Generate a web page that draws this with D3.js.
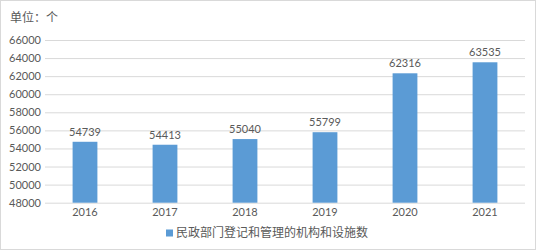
<!DOCTYPE html>
<html>
<head>
<meta charset="utf-8">
<script src="https://cdn.jsdelivr.net/npm/d3@7"></script>
<style>
  body { margin: 0; background: #fff; }
  svg { display: block; }
</style>
</head>
<body>
<script>
// chart data
var years  = ['2016', '2017', '2018', '2019', '2020', '2021'],
    counts = [54739, 54413, 55040, 55799, 62316, 63535],
    yTicks = [48000, 50000, 52000, 54000, 56000, 58000, 60000, 62000, 64000, 66000],
    unitLabel   = '单位：个',
    seriesLabel = '民政部门登记和管理的机构和设施数';

var width  = 536,
    height = 250,
    plot   = { left: 45, right: 525, top: 40, bottom: 202.7 },
    barColor  = '#5b9bd5',
    textColor = '#595959',
    gridColor = '#d9d9d9',
    numFont = 'Lato, "Liberation Sans", sans-serif',
    cjkFont = '"Noto Sans CJK SC", "Noto Sans", sans-serif';

var svg = d3.select('body').append('svg')
    .attr('width', width)
    .attr('height', height);

// outer frame
svg.append('rect')
    .attr('x', 0.5).attr('y', 0.5)
    .attr('width', width - 1).attr('height', height - 1)
    .style('fill', '#fff')
    .style('stroke', gridColor);

// scales
var xScale = d3.scaleBand().domain(years).range([plot.left, plot.right]).paddingInner(0.69).paddingOuter(0.345);
var yScale = d3.scaleLinear().domain([48000, 66000]).range([plot.bottom, plot.top]);

// y axis with gridlines
var yAxis = svg.append('g')
    .attr('transform', 'translate(' + plot.left + ',0)')
    .call(d3.axisLeft(yScale).tickValues(yTicks).tickSize(-(plot.right - plot.left)).tickPadding(4).tickFormat(d3.format('d')));
yAxis.select('.domain').remove();
yAxis.selectAll('line').style('stroke', gridColor);
yAxis.selectAll('text')
    .style('fill', textColor)
    .style('font-family', numFont)
    .style('font-size', '11px');

// x axis labels
var xAxis = svg.append('g')
    .attr('transform', 'translate(0,' + plot.bottom + ')')
    .call(d3.axisBottom(xScale).tickSize(0).tickPadding(6));
xAxis.select('.domain').remove();
xAxis.selectAll('text')
    .style('fill', textColor)
    .style('font-family', numFont)
    .style('font-size', '11px');

// bars
svg.selectAll('.bar').data(counts)
    .enter().append('rect')
    .attr('class', 'bar')
    .attr('x', function(d, i) { return xScale(years[i]); })
    .attr('y', function(d) { return yScale(d); })
    .attr('width', xScale.bandwidth())
    .attr('height', function(d) { return plot.bottom - yScale(d); })
    .style('fill', barColor);

// value labels
svg.selectAll('.val').data(counts)
    .enter().append('text')
    .attr('class', 'val')
    .attr('x', function(d, i) { return xScale(years[i]) + xScale.bandwidth() / 2; })
    .attr('y', function(d) { return yScale(d) - 6; })
    .attr('text-anchor', 'middle')
    .style('fill', textColor)
    .style('font-family', numFont)
    .style('font-size', '11px')
    .text(function(d) { return d; });

// unit title
svg.append('text')
    .attr('x', 10).attr('y', 22)
    .style('fill', textColor)
    .style('font-family', cjkFont)
    .style('font-size', '12px')
    .text(unitLabel);

// legend
var legend = svg.append('g').attr('transform', 'translate(166,229.5)');
legend.append('rect')
    .attr('width', 7).attr('height', 7)
    .style('fill', barColor);
legend.append('text')
    .attr('x', 10).attr('y', 3.5)
    .attr('dy', '0.35em')
    .style('fill', textColor)
    .style('font-family', cjkFont)
    .style('font-size', '12px')
    .text(seriesLabel);
</script>
</body>
</html>
